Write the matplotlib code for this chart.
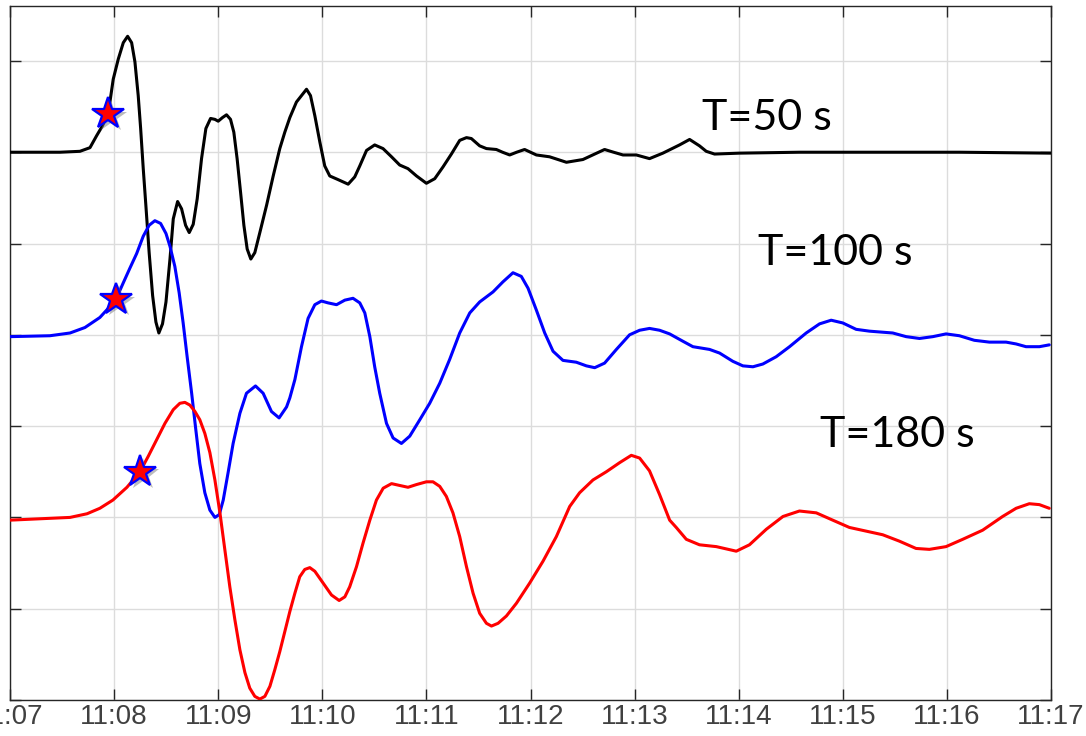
import numpy as np
import matplotlib
matplotlib.use("Agg")
import matplotlib.pyplot as plt
import matplotlib.patheffects as pe

# Seismogram traces filtered at three periods (time in s after 11:07:00,
# amplitude in normalised units relative to each trace's baseline)
t_50 = [0.0, 28.8, 40.3, 46.1, 49.9, 53.0, 56.6, 59.5, 62.4, 65.3, 67.8, 70.1,
        72.0, 73.9, 75.3, 76.8, 78.3, 80.2, 82.2, 84.1, 85.8, 87.9, 89.9, 92.2,
        94.1, 96.6, 98.9, 101.2, 103.3, 105.6, 107.9, 110.4, 112.9, 115.6,
        118.1, 120.0, 122.5, 124.8, 127.1, 129.0, 130.9, 132.9, 134.8, 136.7,
        138.8, 141.1, 144.0, 147.9, 151.7, 155.5, 158.4, 161.3, 165.1, 168.0,
        170.9, 173.2, 175.7, 178.6, 181.4, 184.3, 189.1, 194.9, 198.7, 201.6,
        205.5, 210.2, 215.0, 219.9, 224.6, 229.4, 234.3, 240.0, 244.8, 249.6,
        254.4, 259.2, 263.1, 265.9, 270.7, 274.6, 280.3, 283.9, 288.0, 292.0,
        296.6, 303.4, 311.0, 320.7, 330.2, 337.0, 342.7, 347.9, 353.3, 361.0,
        368.6, 376.3, 385.9, 391.7, 397.4, 401.3, 406.1, 420.5, 455.0, 501.1,
        547.2, 600.0]
a_50 = [0.00, 0.00, 0.01, 0.05, 0.18, 0.28, 0.42, 0.80, 1.02, 1.20, 1.27, 1.20,
        0.99, 0.62, 0.26, -0.18, -0.58, -1.10, -1.57, -1.86, -1.98, -1.88, -1.64,
        -1.17, -0.73, -0.54, -0.62, -0.80, -0.88, -0.79, -0.51, -0.07, 0.26,
        0.37, 0.36, 0.34, 0.38, 0.41, 0.36, 0.22, -0.07, -0.44, -0.80, -1.06,
        -1.17, -1.10, -0.88, -0.58, -0.26, 0.04, 0.22, 0.38, 0.55, 0.62,
        0.69, 0.62, 0.40, 0.11, -0.15, -0.26, -0.30, -0.35, -0.27, -0.15,
        0.02, 0.08, 0.04, -0.05, -0.14, -0.18, -0.26, -0.34, -0.29, -0.16,
        -0.02, 0.13, 0.16, 0.15, 0.07, 0.04, 0.03, 0.00, -0.03, 0.00,
        0.03, -0.03, -0.05, -0.11, -0.08, -0.02, 0.03, 0.00, -0.03, -0.03,
        -0.07, -0.01, 0.08, 0.14, 0.07, 0.01, -0.02, -0.01, 0.00, 0.00,
        0.00, -0.01]

t_100 = [0.0, 23.0, 34.6, 43.2, 51.8, 57.6, 61.1, 65.3, 69.1, 73.0, 76.8, 80.2,
         83.5, 86.8, 89.9, 92.2, 95.0, 97.5, 99.8, 102.1, 104.7, 107.1, 109.4,
         112.3, 115.2, 118.1, 120.6, 122.9, 125.7, 128.6, 132.5, 136.3, 141.5,
         145.9, 150.7, 155.1, 159.4, 161.3, 164.2, 168.0, 171.8, 175.7, 179.5,
         183.3, 188.2, 193.0, 197.7, 201.6, 204.5, 207.4, 210.2, 213.1, 217.0,
         220.8, 225.6, 230.4, 236.2, 241.9, 247.7, 253.4, 259.2, 265.0, 270.7,
         278.4, 284.1, 289.9, 294.7, 298.6, 303.4, 308.2, 313.0, 318.7, 326.4,
         332.2, 337.0, 342.7, 349.5, 357.1, 362.9, 368.6, 374.4, 380.2, 387.8,
         393.6, 403.2, 409.0, 416.6, 422.4, 428.2, 433.9, 441.6, 449.3, 458.9,
         466.6, 473.3, 480.0, 487.7, 495.4, 508.8, 516.5, 524.2, 531.9, 539.5,
         547.2, 555.8, 564.5, 574.1, 579.9, 585.6, 593.3, 599.0]
a_100 = [-0.02, -0.01, 0.02, 0.08, 0.19, 0.31, 0.39, 0.57, 0.73, 0.89, 1.08, 1.20,
         1.25, 1.22, 1.11, 0.97, 0.75, 0.46, 0.13, -0.24, -0.64, -1.04, -1.41,
         -1.73, -1.92, -2.00, -1.97, -1.81, -1.51, -1.19, -0.86, -0.64, -0.56,
         -0.64, -0.84, -0.91, -0.79, -0.69, -0.49, -0.13, 0.18, 0.33, 0.37,
         0.35, 0.33, 0.38, 0.40, 0.35, 0.24, -0.02, -0.35, -0.64, -0.97,
         -1.13, -1.19, -1.11, -0.93, -0.75, -0.53, -0.27, 0.02, 0.24, 0.36,
         0.47, 0.58, 0.68, 0.64, 0.51, 0.27, 0.02, -0.18, -0.28, -0.30,
         -0.34, -0.36, -0.31, -0.16, 0.00, 0.05, 0.07, 0.05, 0.01, -0.07,
         -0.13, -0.16, -0.20, -0.29, -0.34, -0.35, -0.32, -0.24, -0.13, 0.02,
         0.12, 0.16, 0.13, 0.06, 0.04, 0.02, -0.02, -0.04, -0.02, 0.01,
         -0.01, -0.06, -0.08, -0.08, -0.10, -0.13, -0.13, -0.11]

t_180 = [0.0, 23.0, 34.6, 44.4, 51.8, 59.3, 67.4, 74.9, 79.7, 84.5, 89.3, 94.1,
         97.9, 100.8, 103.7, 106.6, 109.4, 112.3, 115.2, 118.1, 121.0, 123.8,
         126.7, 129.6, 132.5, 135.4, 138.2, 141.1, 144.0, 146.9, 149.8, 152.6,
         155.5, 158.4, 161.3, 164.2, 167.0, 169.9, 172.8, 175.7, 180.5, 185.3,
         189.7, 193.0, 195.8, 199.7, 203.5, 207.4, 211.2, 215.1, 219.9, 224.6,
         229.4, 234.3, 240.0, 243.8, 247.7, 251.5, 255.3, 259.2, 263.1, 266.9,
         270.7, 274.6, 277.5, 281.3, 286.1, 291.9, 299.5, 307.2, 314.9, 322.6,
         328.3, 336.0, 343.7, 351.4, 358.1, 362.9, 368.6, 374.4, 380.2, 384.0,
         389.8, 397.4, 407.1, 418.6, 426.2, 435.9, 445.5, 455.0, 464.7, 474.2,
         483.8, 493.4, 503.0, 512.6, 522.2, 529.9, 539.5, 549.1, 560.6, 572.1,
         579.9, 587.5, 593.3, 599.0]
a_180 = [-0.03, -0.01, 0.00, 0.04, 0.10, 0.19, 0.33, 0.50, 0.67, 0.85, 1.03, 1.18,
         1.25, 1.26, 1.23, 1.16, 1.07, 0.92, 0.71, 0.41, 0.05, -0.35,
         -0.76, -1.12, -1.45, -1.70, -1.87, -1.96, -1.99, -1.96, -1.85, -1.67,
         -1.47, -1.25, -1.03, -0.83, -0.65, -0.57, -0.55, -0.59, -0.72, -0.85,
         -0.91, -0.87, -0.76, -0.54, -0.28, -0.03, 0.19, 0.32, 0.37, 0.35,
         0.33, 0.36, 0.39, 0.39, 0.34, 0.23, 0.05, -0.21, -0.54, -0.83,
         -1.05, -1.16, -1.19, -1.16, -1.08, -0.94, -0.72, -0.48, -0.21, 0.12,
         0.27, 0.41, 0.50, 0.60, 0.68, 0.65, 0.51, 0.25, -0.03, -0.11,
         -0.24, -0.30, -0.32, -0.37, -0.30, -0.13, 0.01, 0.07, 0.05, -0.03,
         -0.11, -0.15, -0.19, -0.26, -0.34, -0.35, -0.32, -0.24, -0.14, 0.01,
         0.10, 0.15, 0.14, 0.10]

# Onset picks (s after 11:07:00) for each trace
pick_times = [56.6, 61.1, 74.9]

labels = ["T=50 s", "T=100 s", "T=180 s"]
tick_seconds = list(range(0, 601, 60))
tick_labels = ["11:07", "11:08", "11:09", "11:10", "11:11", "11:12",
               "11:13", "11:14", "11:15", "11:16", "11:17"]

traces = [(t_50, a_50), (t_100, a_100), (t_180, a_180)]
offsets = [6, 4, 2]
colors = ["#000000", "#0000ff", "#ff0000"]
label_pos = [(399, 6.24), (431, 4.76), (466.6, 2.77)]

fig = plt.figure(figsize=(10.86, 7.36), dpi=100)
ax = fig.add_axes([10 / 1086, 36 / 736, 1041 / 1086, 694.3 / 736])

for (t, a), off, c in zip(traces, offsets, colors):
    ax.plot(t, np.asarray(a) + off, color=c, lw=2.2, solid_joinstyle="round",
            solid_capstyle="round", zorder=3)

shadow = [pe.SimplePatchShadow(offset=(2, -2), shadow_rgbFace="#7a7a7a",
                               alpha=0.5), pe.Normal()]
for (t, a), off, tp in zip(traces, offsets, pick_times):
    ax.plot([tp], [np.interp(tp, t, a) + off], marker="*", ms=24,
            mfc="#ff0000", mec="#0000ff", mew=1.6, ls="none", zorder=5,
            path_effects=shadow)

for txt, (x, y) in zip(labels, label_pos):
    ax.text(x, y, txt, fontsize=31, family="Lato", color="black",
            ha="left", va="baseline", zorder=6)

ax.set_xlim(0, 600)
ax.set_ylim(0, 7.605)
ax.set_xticks(tick_seconds)
ax.set_xticklabels(tick_labels)
ax.set_yticks(range(0, 8))
ax.set_yticklabels([])
ax.grid(True, color="#dcdcdc", lw=1.0, zorder=0)
ax.set_axisbelow(True)
ax.tick_params(axis="both", direction="in", length=8, width=1.0,
               color="#262626", top=True, right=True)
ax.tick_params(axis="x", labelsize=20, labelcolor="#404040", pad=3)
for lab in ax.get_xticklabels():
    lab.set_family("Liberation Sans")
for s in ax.spines.values():
    s.set_color("#262626")
    s.set_linewidth(1.0)

fig.savefig("out.png", dpi=100)
